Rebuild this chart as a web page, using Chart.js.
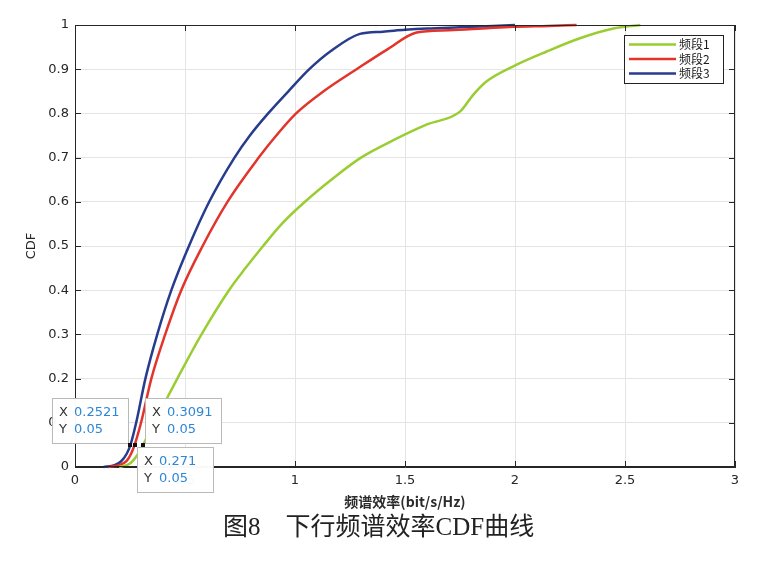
<!DOCTYPE html>
<html>
<head>
<meta charset="utf-8">
<script src="https://cdn.jsdelivr.net/npm/chart.js@4.4.0/dist/chart.umd.min.js"></script>
<style>
  html, body { margin: 0; padding: 0; background: #fff; }
  #wrap { width: 767px; height: 562px; }
</style>
</head>
<body>
<div id="wrap"><canvas id="cdfChart" width="767" height="562"></canvas></div>
<script>
// values
const seriesNames = ['频段1', '频段2', '频段3'];
const seriesColors = ['#9acd32', '#e3342b', '#283c8e'];

const band1X = [0.20, 0.25, 0.28, 0.3091, 0.36, 0.412, 0.465, 0.575, 0.70, 0.775, 0.855, 0.94, 1.045, 1.165, 1.30, 1.45, 1.60, 1.75, 1.81, 1.87, 1.99, 2.144, 2.295, 2.447, 2.57];
const band1Y = [0, 0.008, 0.025, 0.05, 0.10, 0.15, 0.20, 0.30, 0.40, 0.45, 0.50, 0.55, 0.60, 0.65, 0.70, 0.74, 0.775, 0.804, 0.842, 0.872, 0.906, 0.94, 0.97, 0.992, 1.0];

const band2X = [0.15, 0.20, 0.235, 0.255, 0.271, 0.30, 0.347, 0.41, 0.483, 0.58, 0.693, 0.835, 0.915, 1.005, 1.13, 1.28, 1.42, 1.553, 1.70, 1.85, 1.99, 2.15, 2.28];
const band2Y = [0, 0.004, 0.014, 0.03, 0.05, 0.10, 0.20, 0.30, 0.40, 0.50, 0.60, 0.70, 0.75, 0.80, 0.85, 0.90, 0.945, 0.983, 0.988, 0.992, 0.996, 0.998, 1.0];

const band3X = [0.13, 0.18, 0.21, 0.235, 0.2521, 0.278, 0.32, 0.374, 0.438, 0.518, 0.61, 0.725, 0.795, 0.878, 0.97, 1.065, 1.16, 1.295, 1.40, 1.50, 1.60, 1.75, 1.90, 2.00];
const band3Y = [0, 0.004, 0.013, 0.03, 0.05, 0.10, 0.20, 0.30, 0.40, 0.50, 0.60, 0.70, 0.75, 0.80, 0.85, 0.90, 0.94, 0.98, 0.985, 0.989, 0.992, 0.995, 0.998, 1.0];

const xTicks = [0, 0.5, 1, 1.5, 2, 2.5, 3];
const yTicks = [0, 0.1, 0.2, 0.3, 0.4, 0.5, 0.6, 0.7, 0.8, 0.9, 1];

// data tips (x, y) shown on the figure
const tipX = [0.2521, 0.271, 0.3091];
const tipY = [0.05, 0.05, 0.05];

const xTitle = '频谱效率(bit/s/Hz)';
const yTitle = 'CDF';
const caption = '图8\u3000下行频谱效率CDF曲线';

const toPoints = (xs, ys) => xs.map((x, i) => ({ x: x, y: ys[i] }));

const axisColor = '#262626';
const tickFont = { family: '"DejaVu Sans", sans-serif', size: 13 };

// frame, inward ticks, legend, data tips, caption
const extras = {
  id: 'extras',
  afterDraw(chart) {
    const ctx = chart.ctx;
    const a = chart.chartArea;
    const xs = chart.scales.x, ys = chart.scales.y;
    ctx.save();

    // box
    ctx.strokeStyle = axisColor;
    ctx.lineWidth = 1;
    ctx.strokeRect(Math.round(a.left) + 0.5, Math.round(a.top) + 0.5,
      Math.round(a.right - a.left) - 1, Math.round(a.bottom - a.top) - 1);

    // ticks pointing inwards
    ctx.beginPath();
    xTicks.forEach(v => {
      const px = Math.round(xs.getPixelForValue(v)) + 0.5;
      ctx.moveTo(px, a.bottom); ctx.lineTo(px, a.bottom - 6);
      ctx.moveTo(px, a.top); ctx.lineTo(px, a.top + 6);
    });
    yTicks.forEach(v => {
      const py = Math.round(ys.getPixelForValue(v)) + 0.5;
      ctx.moveTo(a.left, py); ctx.lineTo(a.left + 6, py);
      ctx.moveTo(a.right, py); ctx.lineTo(a.right - 6, py);
    });
    ctx.stroke();

    // legend
    const lx = a.right - 111, ly = a.top + 10, lw = 99, lh = 48;
    ctx.fillStyle = '#fff';
    ctx.fillRect(lx, ly, lw, lh);
    ctx.strokeStyle = '#222';
    ctx.strokeRect(lx + 0.5, ly + 0.5, lw, lh);
    ctx.font = '12px "Noto Sans CJK SC", sans-serif';
    ctx.textBaseline = 'middle';
    ctx.textAlign = 'left';
    chart.data.datasets.forEach((ds, i) => {
      const ry = ly + 9.5 + i * 14.5;
      ctx.strokeStyle = ds.borderColor;
      ctx.lineWidth = 2.5;
      ctx.beginPath();
      ctx.moveTo(lx + 5, ry); ctx.lineTo(lx + 52, ry);
      ctx.stroke();
      ctx.fillStyle = '#1a1a1a';
      ctx.fillText(ds.label, lx + 55, ry);
    });

    // data tips
    const place = ['upleft', 'below', 'upright'];
    const bw = 76, bh = 45;
    tipX.forEach((tx, i) => {
      const mx = xs.getPixelForValue(tx), my = ys.getPixelForValue(tipY[i]);
      let bx, by;
      if (place[i] === 'upleft') { bx = mx - 2 - bw; by = my - 2 - bh; }
      else if (place[i] === 'upright') { bx = mx + 2; by = my - 2 - bh; }
      else { bx = mx + 2; by = my + 2; }
      bx = Math.round(bx); by = Math.round(by);
      ctx.fillStyle = 'rgba(255,255,255,0.97)';
      ctx.fillRect(bx, by, bw, bh);
      ctx.strokeStyle = '#b9b9b9';
      ctx.lineWidth = 1;
      ctx.strokeRect(bx + 0.5, by + 0.5, bw, bh);
      ctx.font = '13px "DejaVu Sans", sans-serif';
      ctx.textBaseline = 'middle';
      ctx.fillStyle = '#333';
      ctx.fillText('X', bx + 7, by + 15);
      ctx.fillText('Y', bx + 7, by + 32);
      ctx.fillStyle = '#2f86d6';
      ctx.fillText(String(tx), bx + 22, by + 15);
      ctx.fillText(String(tipY[i]), bx + 22, by + 32);
    });
    tipX.forEach((tx, i) => {
      const mx = xs.getPixelForValue(tx), my = ys.getPixelForValue(tipY[i]);
      ctx.fillStyle = '#111';
      ctx.fillRect(Math.round(mx) - 2, Math.round(my) - 2, 4, 4);
    });

    // figure caption
    ctx.font = '25px "Liberation Serif", "Noto Sans CJK SC", serif';
    ctx.fillStyle = '#222';
    ctx.textAlign = 'left';
    ctx.textBaseline = 'middle';
    ctx.fillText(caption, 223, 528);

    ctx.restore();
  }
};

new Chart(document.getElementById('cdfChart'), {
  type: 'scatter',
  data: {
    datasets: [
      { label: seriesNames[0], data: toPoints(band1X, band1Y), borderColor: seriesColors[0] },
      { label: seriesNames[1], data: toPoints(band2X, band2Y), borderColor: seriesColors[1] },
      { label: seriesNames[2], data: toPoints(band3X, band3Y), borderColor: seriesColors[2] }
    ].map(ds => Object.assign(ds, {
      showLine: true, borderWidth: 2.5, pointRadius: 0,
      cubicInterpolationMode: 'monotone', fill: false, clip: 4
    }))
  },
  options: {
    responsive: false,
    animation: false,
    layout: { padding: { left: 0, right: 32, top: 25, bottom: 0 } },
    plugins: { legend: { display: false }, tooltip: { enabled: false } },
    scales: {
      x: {
        type: 'linear', min: 0, max: 3,
        afterBuildTicks: s => { s.ticks = xTicks.map(v => ({ value: v })); },
        afterFit: s => { s.height = 95; },
        grid: { color: '#e4e4e4', drawTicks: false },
        border: { color: axisColor },
        ticks: { color: axisColor, font: tickFont, padding: 6, maxRotation: 0, callback: v => String(v) },
        title: { display: true, text: xTitle, color: '#2a2a2a',
          font: { family: '"Noto Sans CJK SC", sans-serif', size: 14, weight: 'bold' },
          padding: { top: 0, bottom: 52 } }
      },
      y: {
        type: 'linear', min: 0, max: 1,
        afterBuildTicks: s => { s.ticks = yTicks.map(v => ({ value: v })); },
        afterFit: s => { s.width = 75; },
        grid: { color: '#e4e4e4', drawTicks: false },
        border: { color: axisColor },
        ticks: { color: axisColor, font: tickFont, padding: 6, callback: v => String(v) },
        title: { display: true, text: yTitle, color: axisColor,
          font: { family: '"DejaVu Sans", sans-serif', size: 13 },
          padding: { top: 24, bottom: 0 } }
      }
    }
  },
  plugins: [extras]
});
</script>
</body>
</html>
